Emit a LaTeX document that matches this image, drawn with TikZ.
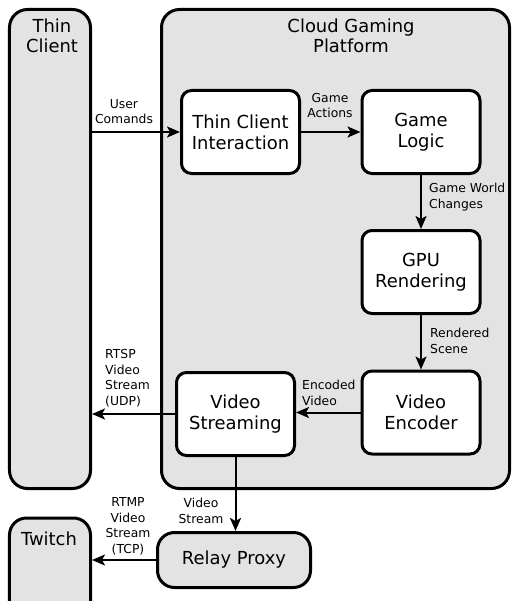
\documentclass[tikz,border=0pt]{standalone}
\usepackage{fontspec}
\setmainfont{DejaVu Sans}
\usetikzlibrary{arrows.meta}
\definecolor{panelgray}{RGB}{227,227,227}
\begin{document}
\begin{tikzpicture}[x=1bp,y=-1bp,
  panel/.style={rectangle, draw=black, line width=3bp, fill=panelgray,
    rounded corners=18bp, inner sep=0pt},
  stage/.style={rectangle, draw=black, line width=3bp, fill=white,
    rounded corners=10bp, minimum width=118bp, minimum height=83bp,
    inner sep=0pt, align=center, font=\fontsize{18}{21}\selectfont},
  title/.style={anchor=base, align=center, inner sep=0pt,
    font=\fontsize{18}{21}\selectfont},
  flow/.style={line width=2bp, -{Stealth[length=13bp,width=11bp,inset=3bp]}},
  tag/.style={anchor=base, inner sep=0pt, font=\fontsize{12.4}{15.5}\selectfont},
]
\clip (0,0) rectangle (512,601);
\fill[white] (0,0) rectangle (512,601);

% outer panels
\node[panel, minimum width=81bp, minimum height=479bp] (tc) at (50,249) {};
\node[title] (tctitle) at (52,53) {Thin\\Client};
\node[panel, minimum width=348bp, minimum height=479bp] (cgp) at (335.5,249) {};
\node[title] (cgptitle) at (351,53) {Cloud Gaming\\Platform};
\node[panel, rounded corners=17bp, minimum width=81bp, minimum height=160bp] (tw) at (50,598) {};
\node[title] (twtitle) at (49,545) {Twitch};
\node[panel, rounded corners=17bp, minimum width=153bp, minimum height=55bp,
  font=\fontsize{18}{21}\selectfont] (relay) at (234,560) {Relay Proxy};

% processing stages
\node[stage] (tci) at (240.5,132) {Thin Client\\Interaction};
\node[stage] (gl) at (421,132) {Game\\Logic};
\node[stage] (gpu) at (421,272) {GPU\\Rendering};
\node[stage] (enc) at (421,412.5) {Video\\Encoder};
\node[stage] (vs) at (235.5,414) {Video\\Streaming};

% data flow
\draw[flow] (tc.east |- tci.west) -- (tci.west);
\draw[flow] (tci.east) -- (gl.west);
\draw[flow] (gl.south) -- (gpu.north);
\draw[flow] (gpu.south) -- (enc.north);
\draw[flow] (enc.west) -- (enc.west -| vs.east);
\draw[flow] (vs.west) -- (vs.west -| tc.east);
\draw[flow] (vs.south) -- (vs.south |- relay.north);
\draw[flow] (relay.west) -- (relay.west -| tw.east);

% flow labels (placed by the baseline of their last line)
\node[tag, align=center] (l1) at (124,124) {User\\Comands};
\node[tag, align=center] (l2) at (330,118) {Game\\Actions};
\node[tag, align=left, anchor=base west] (l3) at (429,208) {Game World\\Changes};
\node[tag, align=left, anchor=base west] (l4) at (430,353) {Rendered\\Scene};
\node[tag, align=left, anchor=base west] (l5) at (302,405) {Encoded\\Video};
\node[tag, align=left, anchor=base west] (l6) at (105,405) {RTSP\\Video\\Stream\\(UDP)};
\node[tag, align=center] (l7) at (201,523) {Video\\Stream};
\node[tag, align=center] (l8) at (128,553) {RTMP\\Video\\Stream\\(TCP)};
\end{tikzpicture}
\end{document}
